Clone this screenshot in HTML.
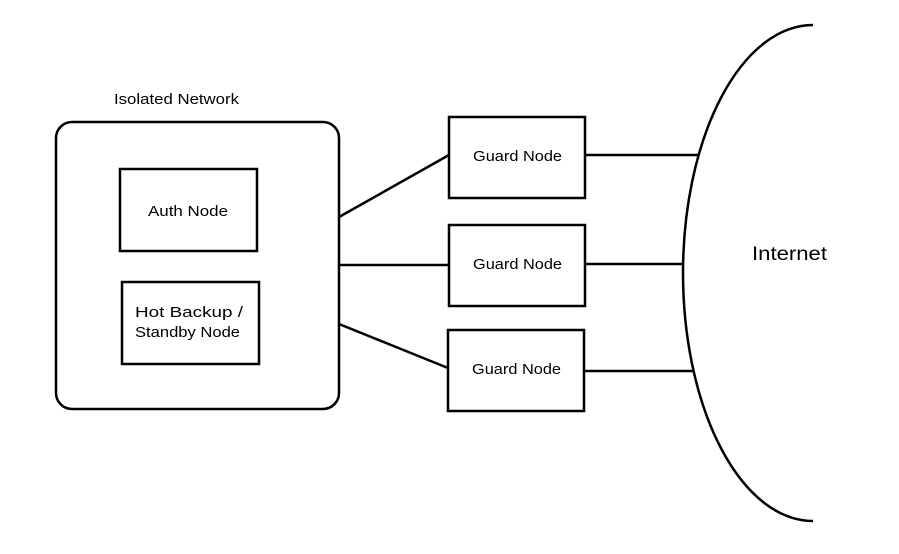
<!DOCTYPE html>
<html><head><meta charset="utf-8"><style>body{margin:0;background:#fff}</style></head><body>
<svg width="899" height="549" xmlns="http://www.w3.org/2000/svg" font-family="Liberation Sans, DejaVu Sans, sans-serif" font-size="15" fill="#000">
<rect width="899" height="549" fill="#fff"/>
<g stroke="#000" stroke-width="2.5" fill="none">
<rect x="56" y="122" width="283" height="287" rx="16"/>
<rect x="120" y="169" width="137" height="82"/>
<rect x="122" y="282" width="137" height="82"/>
<rect x="449" y="117" width="136" height="81"/>
<rect x="449" y="225" width="136" height="81"/>
<rect x="448" y="330" width="136" height="81"/>
<line x1="339" y1="217" x2="449" y2="155"/>
<line x1="339" y1="265" x2="449" y2="265"/>
<line x1="339" y1="324" x2="448" y2="368"/>
<line x1="585" y1="155" x2="698" y2="155"/>
<line x1="585" y1="264" x2="683" y2="264"/>
<line x1="584" y1="371" x2="693" y2="371"/>
<path d="M813 25 A130 248 0 0 0 813 521"/>
</g>
<text x="114" y="104" textLength="125" lengthAdjust="spacingAndGlyphs">Isolated Network</text>
<text x="148" y="216" textLength="80" lengthAdjust="spacingAndGlyphs">Auth Node</text>
<text x="135" y="317" textLength="108" lengthAdjust="spacingAndGlyphs">Hot Backup /</text>
<text x="135" y="337" textLength="105" lengthAdjust="spacingAndGlyphs">Standby Node</text>
<text x="473" y="161" textLength="89" lengthAdjust="spacingAndGlyphs">Guard Node</text>
<text x="473" y="269" textLength="89" lengthAdjust="spacingAndGlyphs">Guard Node</text>
<text x="472" y="374" textLength="89" lengthAdjust="spacingAndGlyphs">Guard Node</text>
<text x="752" y="260" font-size="19" textLength="75" lengthAdjust="spacingAndGlyphs">Internet</text>
</svg>
</body></html>
